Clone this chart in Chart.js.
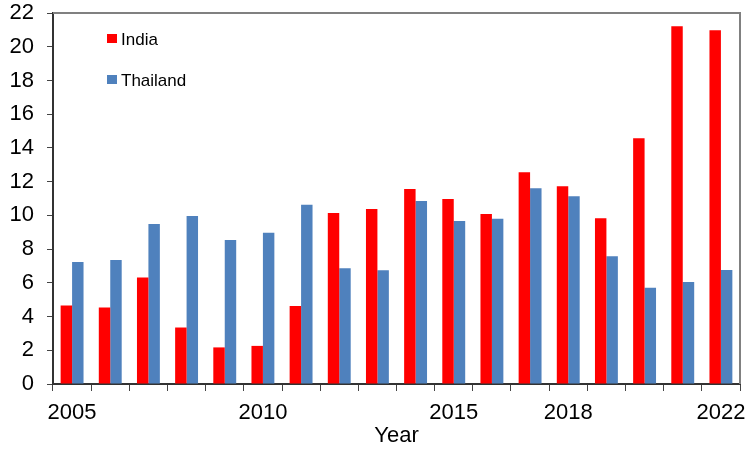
<!DOCTYPE html>
<html>
<head>
<meta charset="utf-8">
<script src="https://cdn.jsdelivr.net/npm/chart.js@4.4.1/dist/chart.umd.min.js"></script>
<style>
  html, body { margin: 0; padding: 0; background: #fff; }
  #wrap { width: 748px; height: 449px; position: relative; }
</style>
</head>
<body>
<div id="wrap"><canvas id="chart"></canvas></div>
<script>
// Data
const years = ['2005','2006','2007','2008','2009','2010','2011','2012','2013','2014','2015','2016','2017','2018','2019','2020','2021','2022'];
const india = [4.66, 4.54, 6.31, 3.35, 2.17, 2.26, 4.62, 10.14, 10.37, 11.56, 10.97, 10.08, 12.56, 11.73, 9.83, 14.58, 21.21, 20.97];
const thailand = [7.24, 7.36, 9.49, 9.96, 8.54, 8.97, 10.63, 6.86, 6.75, 10.85, 9.67, 9.80, 11.61, 11.14, 7.57, 5.71, 6.05, 6.76];
const shownYears = ['2005', '2010', '2015', '2018', '2022'];

const FONT = 'Liberation Sans, Arial, sans-serif';

// frame: gray top/right, dark left/bottom
const framePlugin = {
  id: 'frame',
  afterDraw(chart) {
    const { ctx, chartArea: a } = chart;
    ctx.save();
    ctx.strokeStyle = '#808080';
    ctx.lineWidth = 2;
    ctx.beginPath();
    ctx.moveTo(a.left, a.top);
    ctx.lineTo(a.right, a.top);
    ctx.lineTo(a.right, a.bottom);
    ctx.stroke();
    ctx.restore();
  }
};

// legend drawn inside the plot, stacked vertically
const insideLegend = {
  id: 'insideLegend',
  afterDraw(chart) {
    const { ctx, chartArea: a } = chart;
    ctx.save();
    ctx.font = '17px ' + FONT;
    ctx.textBaseline = 'middle';
    chart.data.datasets.forEach((ds, i) => {
      const y = a.top + 25.5 + i * 41;
      ctx.fillStyle = ds.backgroundColor;
      ctx.fillRect(a.left + 54, y - 4.5, 10, 9);
      ctx.fillStyle = '#000';
      ctx.fillText(ds.label, a.left + 68, y + 2);
    });
    ctx.restore();
  }
};

new Chart(document.getElementById('chart'), {
  type: 'bar',
  data: {
    labels: years,
    datasets: [
      { label: 'India', data: india, backgroundColor: '#FF0000', categoryPercentage: 0.6, barPercentage: 1 },
      { label: 'Thailand', data: thailand, backgroundColor: '#4F81BD', categoryPercentage: 0.6, barPercentage: 1 }
    ]
  },
  options: {
    responsive: true,
    maintainAspectRatio: false,
    animation: false,
    layout: { padding: { left: 0, right: 8, top: 13, bottom: 0 } },
    plugins: {
      legend: { display: false },
      tooltip: { enabled: false }
    },
    scales: {
      x: {
        grid: { display: true, drawOnChartArea: false, offset: true, tickLength: 7, color: '#444', lineWidth: 1 },
        border: { display: true, color: '#333', width: 2 },
        ticks: {
          autoSkip: false,
          maxRotation: 0,
          padding: 9,
          color: '#000',
          font: { family: FONT, size: 22 },
          callback: function(value) {
            const lab = this.getLabelForValue(value);
            return shownYears.includes(lab) ? lab : '';
          }
        },
        title: { display: true, text: 'Year', color: '#000', font: { family: FONT, size: 22 }, padding: { top: 0, bottom: 0 } },
        afterFit(scale) {
          scale.height = 65;
          scale.paddingLeft = 0;
          scale.paddingRight = 0;
        }
      },
      y: {
        min: 0,
        max: 22,
        grid: { display: true, drawOnChartArea: false, tickLength: 6, color: '#444', lineWidth: 1 },
        border: { display: true, color: '#333', width: 2 },
        ticks: {
          stepSize: 1,
          padding: 13,
          color: '#000',
          font: { family: FONT, size: 22 },
          callback: v => (v % 2 === 0 ? v : '')
        },
        afterFit(scale) {
          scale.width = 53;
          scale.paddingTop = 0;
          scale.paddingBottom = 0;
        }
      }
    }
  },
  plugins: [framePlugin, insideLegend]
});
</script>
</body>
</html>
